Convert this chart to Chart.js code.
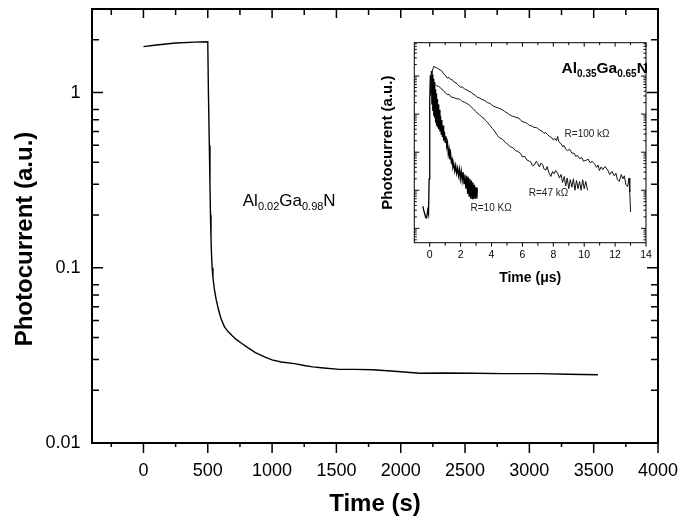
<!DOCTYPE html>
<html>
<head>
<meta charset="utf-8">
<script src="https://cdn.jsdelivr.net/npm/chart.js@4.4.1/dist/chart.umd.min.js"></script>
<style>
  html, body { margin: 0; padding: 0; background: #fff; }
  #wrap { position: relative; width: 681px; height: 524px; }
  #main { position: absolute; left: 0; top: 0; }
  #inset { position: absolute; left: 360px; top: 30px; }
</style>
</head>
<body>
<div id="wrap">
  <canvas id="main" width="681" height="524" style="width:681px;height:524px"></canvas>
  <canvas id="inset" width="300" height="265" style="width:300px;height:265px"></canvas>
</div>
<script>
const FONT = '"Liberation Sans", Arial, Helvetica, sans-serif';

// ---- main panel: photocurrent decay, time in s ----
const timeS = [0, 100, 250, 400, 500, 505, 512, 517, 521, 525, 529, 534, 540, 552, 565, 585, 604, 630, 656, 690,
  721, 765, 811, 870, 941, 1000, 1071, 1174, 1250, 1317, 1400, 1524, 1650, 1783, 1950, 2149, 2350, 2560, 2800, 3079,
  3300, 3533];
const photocurrent = [1.83, 1.87, 1.92, 1.94, 1.95, 1.0, 0.5, 0.3, 0.2, 0.15, 0.12, 0.1, 0.088, 0.075, 0.066, 0.057, 0.051, 0.046, 0.0434, 0.041,
  0.039, 0.037, 0.035, 0.0328, 0.031, 0.0298, 0.029, 0.0284, 0.0277, 0.0272, 0.0268, 0.0263, 0.0263, 0.0262, 0.0257, 0.025, 0.0251, 0.025, 0.0249, 0.0249,
  0.0247, 0.0245];
const mainXTicks = [0, 500, 1000, 1500, 2000, 2500, 3000, 3500, 4000];
const mainXMinor = [-250, 250, 750, 1250, 1750, 2250, 2750, 3250, 3750];
const mainYTicks = [0.01, 0.1, 1];

// ---- inset: transient photocurrent, time in µs ----
const r100Time = [0.05, 0.15, 0.26, 0.35, 0.48, 0.6, 0.7, 0.8, 0.9, 1.0,
  1.13, 1.25, 1.35, 1.45, 1.55, 1.7, 1.85, 1.99, 2.1, 2.25,
  2.4, 2.53, 2.65, 2.8, 2.95, 3.07, 3.2, 3.35, 3.5, 3.61,
  3.75, 3.9, 4.05, 4.15, 4.3, 4.45, 4.6, 4.7, 4.85, 5.0,
  5.1, 5.23, 5.35, 5.5, 5.65, 5.77, 5.9, 6.05, 6.2, 6.33,
  6.45, 6.6, 6.75, 6.9, 6.98, 7.1, 7.25, 7.4, 7.5, 7.63,
  7.75, 7.9, 8.0, 8.1, 8.2, 8.28, 8.35, 8.49, 8.6, 8.7,
  8.8, 8.92, 9.05, 9.2, 9.35, 9.45, 9.57, 9.7, 9.85, 9.95,
  10.11, 10.25, 10.4, 10.5, 10.65, 10.8, 10.9, 10.98, 11.1, 11.2,
  11.35, 11.52, 11.65, 11.8, 11.95, 12.05, 12.15, 12.27, 12.4, 12.5,
  12.6, 12.7, 12.81, 12.9, 12.95, 13.0];
const r100Current = [0.5, 1.3, 1.80, 1.70, 1.62, 1.50, 1.42, 1.33, 1.15, 1.05,
  0.89, 0.92, 0.82, 0.80, 0.71, 0.66, 0.58, 0.505, 0.52, 0.46,
  0.43, 0.397, 0.38, 0.34, 0.31, 0.276, 0.27, 0.245, 0.235, 0.217,
  0.20, 0.19, 0.17, 0.160, 0.15, 0.145, 0.135, 0.130, 0.118, 0.108,
  0.100, 0.093, 0.088, 0.085, 0.080, 0.079, 0.068, 0.062, 0.060, 0.056,
  0.050, 0.049, 0.045, 0.044, 0.043, 0.038, 0.036, 0.031, 0.033, 0.029,
  0.026, 0.024, 0.021, 0.023, 0.020, 0.026, 0.019, 0.017, 0.014, 0.015,
  0.012, 0.011, 0.012, 0.0095, 0.0093, 0.0078, 0.0082, 0.0068, 0.0072, 0.0058,
  0.0061, 0.0066, 0.0052, 0.0058, 0.0050, 0.0040, 0.0046, 0.0033, 0.0041, 0.0035,
  0.0042, 0.0034, 0.0026, 0.0031, 0.0024, 0.0028, 0.0019, 0.0017, 0.0026, 0.0020,
  0.0024, 0.0014, 0.00125, 0.0021, 0.0009, 0.00027];

const r47Time = [0.05, 0.15, 0.25, 0.35, 0.45, 0.58, 0.69, 0.8, 0.91, 1.0,
  1.13, 1.25, 1.35, 1.45, 1.6, 1.75, 1.85, 1.99, 2.1, 2.25,
  2.4, 2.53, 2.65, 2.8, 2.95, 3.07, 3.2, 3.35, 3.5, 3.61,
  3.75, 3.9, 4.05, 4.15, 4.37, 4.5, 4.7, 4.9, 5.05, 5.23,
  5.4, 5.55, 5.7, 5.88, 6.0, 6.15, 6.3, 6.45, 6.53, 6.65,
  6.77, 6.9, 7.0, 7.1, 7.19, 7.3, 7.4, 7.52, 7.6, 7.7,
  7.84, 7.95, 8.05, 8.15, 8.28, 8.4, 8.5, 8.6, 8.71, 8.8,
  8.9, 9.0, 9.1, 9.2, 9.3, 9.4, 9.5, 9.6, 9.7, 9.8,
  9.9, 10.0, 10.1, 10.22];
const r47Current = [0.3, 0.75, 0.62, 0.6, 0.55, 0.537, 0.484, 0.45, 0.396, 0.37,
  0.323, 0.33, 0.29, 0.276, 0.27, 0.25, 0.255, 0.239, 0.215, 0.205,
  0.19, 0.177, 0.16, 0.14, 0.12, 0.107, 0.098, 0.085, 0.078, 0.068,
  0.060, 0.050, 0.042, 0.038, 0.028, 0.024, 0.022, 0.018, 0.016, 0.0139,
  0.013, 0.011, 0.0105, 0.0093, 0.0075, 0.0078, 0.0062, 0.0058, 0.0056, 0.0044,
  0.0046, 0.0058, 0.0050, 0.0041, 0.0051, 0.0048, 0.0036, 0.0034, 0.0042, 0.0030,
  0.0023, 0.0031, 0.0027, 0.0033, 0.0028, 0.0021, 0.0026, 0.0016, 0.0023, 0.0013,
  0.0021, 0.0011, 0.0019, 0.0012, 0.0020, 0.0010, 0.0018, 0.0011, 0.0017, 0.0010,
  0.0019, 0.0011, 0.0017, 0.0010];

const r10Time = [-0.45, -0.35, -0.25, -0.2, -0.13, -0.08, -0.04, 0.0, 0.04, 0.08,
  0.11, 0.14, 0.17, 0.20, 0.23, 0.26, 0.29, 0.32, 0.35, 0.38,
  0.41, 0.44, 0.47, 0.50, 0.54, 0.58, 0.62, 0.66, 0.70, 0.74,
  0.78, 0.82, 0.86, 0.90, 0.95, 1.00, 1.05, 1.10, 1.15, 1.20,
  1.25, 1.30, 1.35, 1.40, 1.45, 1.50, 1.56, 1.62, 1.68, 1.74,
  1.80, 1.86, 1.92, 1.98, 2.04, 2.10, 2.16, 2.22, 2.28, 2.34,
  2.40, 2.45, 2.50, 2.55, 2.60, 2.65, 2.70, 2.75, 2.80, 2.85,
  2.90, 2.95, 3.00, 3.05, 3.08];
const r10Current = [3.8e-4, 2.6e-4, 1.9e-4, 1.9e-4, 3.0e-4, 2.4e-4, 0.002, 0.25, 1.05, 0.35,
  1.35, 0.18, 1.1, 0.12, 0.85, 0.09, 0.7, 0.08, 0.45, 0.06,
  0.35, 0.05, 0.25, 0.045, 0.18, 0.04, 0.13, 0.035, 0.09, 0.03,
  0.07, 0.025, 0.05, 0.02, 0.035, 0.018, 0.026, 0.014, 0.018, 0.009,
  0.012, 0.0065, 0.009, 0.0055, 0.0065, 0.004, 0.0048, 0.0032, 0.0045, 0.0028,
  0.0038, 0.0024, 0.0036, 0.0020, 0.0032, 0.0018, 0.0030, 0.0015, 0.0026, 0.0011,
  0.0024, 0.0008, 0.0022, 0.0007, 0.0020, 0.0006, 0.0018, 0.0006, 0.0016, 0.0006,
  0.0014, 0.0006, 0.0012, 0.0006, 0.0011];
const insetXTicks = [0, 2, 4, 6, 8, 10, 12, 14];
const insetXMinor = [1, 3, 5, 7, 9, 11, 13];
const insetYTicks = [1e-4, 1e-3, 1e-2, 0.1, 1];

const pts = (xs, ys) => xs.map((x, i) => ({ x: x, y: ys[i] }));

// minor ticks of a log axis, mults inside each decade
const logMinors = (decades, mults, min, max) => {
  const out = [];
  decades.forEach(d => mults.forEach(m => {
    const v = d * m;
    if (v > min && v < max) out.push(v);
  }));
  return out;
};

// frame + tick marks drawn through the chart scales
const frameTicks = {
  id: 'frameTicks',
  afterDatasetsDraw(chart, args, o) {
    const { ctx, chartArea: a } = chart;
    const sx = chart.scales.x, sy = chart.scales.y;
    ctx.save();
    ctx.strokeStyle = '#000';
    ctx.lineWidth = o.tickWidth;
    ctx.beginPath();
    const seg = (x1, y1, x2, y2) => { ctx.moveTo(x1, y1); ctx.lineTo(x2, y2); };
    [[o.xMajor, 0], [o.xMinor, 1]].forEach(([vals, k]) => vals.forEach(v => {
      const px = sx.getPixelForValue(v);
      seg(px, a.bottom, px, a.bottom + o.bottom[k]);
      seg(px, a.top, px, a.top + o.top[k]);
    }));
    [[o.yMajor, 0], [o.yMinor, 1]].forEach(([vals, k]) => vals.forEach(v => {
      const py = sy.getPixelForValue(v);
      seg(a.left, py, a.left + o.left[k], py);
      seg(a.right, py, a.right - o.right[k], py);
    }));
    ctx.stroke();
    ctx.lineWidth = o.frameWidth;
    ctx.strokeRect(a.left, a.top, a.right - a.left, a.bottom - a.top);
    ctx.restore();
  }
};

// formula with subscripts, parts = [text, isSub]
function drawFormula(ctx, x, y, parts, font, subFont, subDy, align) {
  ctx.save();
  ctx.fillStyle = '#000';
  ctx.textBaseline = 'alphabetic';
  ctx.textAlign = 'left';
  let w = 0;
  parts.forEach(([t, sub]) => { ctx.font = sub ? subFont : font; w += ctx.measureText(t).width; });
  let cx = align === 'right' ? x - w : x;
  parts.forEach(([t, sub]) => {
    ctx.font = sub ? subFont : font;
    ctx.fillText(t, cx, sub ? y + subDy : y);
    cx += ctx.measureText(t).width;
  });
  ctx.restore();
}

const mainText = {
  id: 'mainText',
  afterDraw(chart) {
    const { ctx } = chart;
    const sx = chart.scales.x, sy = chart.scales.y;
    ctx.save();
    ctx.fillStyle = '#000';
    ctx.font = 'bold 24px ' + FONT;
    ctx.textAlign = 'center';
    ctx.textBaseline = 'middle';
    ctx.translate(25, 239);
    ctx.rotate(-Math.PI / 2);
    ctx.fillText('Photocurrent (a.u.)', 0, 0);
    ctx.restore();
    drawFormula(ctx, sx.getPixelForValue(772), sy.getPixelForValue(0.226),
      [['Al', 0], ['0.02', 1], ['Ga', 0], ['0.98', 1], ['N', 0]],
      '17px ' + FONT, '11px ' + FONT, 4, 'left');
  }
};

const insetText = {
  id: 'insetText',
  afterDraw(chart) {
    const { ctx } = chart;
    const sx = chart.scales.x, sy = chart.scales.y;
    drawFormula(ctx, sx.getPixelForValue(14.12), sy.getPixelForValue(1.2),
      [['Al', 0], ['0.35', 1], ['Ga', 0], ['0.65', 1], ['N', 0]],
      'bold 15.5px ' + FONT, 'bold 10px ' + FONT, 3.5, 'right');
    ctx.save();
    ctx.fillStyle = '#222';
    ctx.font = '10px ' + FONT;
    ctx.textBaseline = 'middle';
    ctx.fillText('R=100 k\u03A9', sx.getPixelForValue(8.73), sy.getPixelForValue(0.029));
    ctx.fillText('R=47 k\u03A9', sx.getPixelForValue(6.41), sy.getPixelForValue(8.3e-4));
    ctx.fillText('R=10 K\u03A9', sx.getPixelForValue(2.64), sy.getPixelForValue(3.4e-4));
    ctx.restore();
  }
};

const noPad = s => { s.paddingLeft = 0; s.paddingRight = 0; s.paddingTop = 0; s.paddingBottom = 0; };

new Chart(document.getElementById('main'), {
  type: 'line',
  data: {
    datasets: [{
      data: pts(timeS, photocurrent),
      borderColor: '#000',
      borderWidth: 1.4,
      pointRadius: 0,
      tension: 0
    }]
  },
  options: {
    responsive: false,
    animation: false,
    devicePixelRatio: 1,
    layout: { padding: { top: 9, right: 23, left: 0, bottom: 0 } },
    plugins: {
      legend: { display: false },
      tooltip: { enabled: false },
      frameTicks: {
        xMajor: mainXTicks, xMinor: mainXMinor,
        yMajor: mainYTicks,
        yMinor: logMinors([0.01, 0.1, 1], [2, 3, 4, 5, 6, 7, 8], 0.01, 3),
        bottom: [10, 4], top: [9, 6], left: [11, 7], right: [11, 7],
        tickWidth: 1.5, frameWidth: 2
      }
    },
    scales: {
      x: {
        type: 'linear', min: -400, max: 4000,
        grid: { display: false, drawTicks: false },
        border: { display: false },
        afterBuildTicks: s => { s.ticks = mainXTicks.map(v => ({ value: v })); },
        afterFit: s => { s.height = 81; noPad(s); },
        ticks: { autoSkip: false, maxRotation: 0, padding: 17, color: '#000', font: { family: FONT, size: 18 },
          callback: v => String(v) },
        title: { display: true, text: 'Time (s)', color: '#000', padding: { top: 0, bottom: 5.6 },
          font: { family: FONT, size: 24, weight: 'bold' } }
      },
      y: {
        type: 'logarithmic', min: 0.01, max: 3,
        grid: { display: false, drawTicks: false },
        border: { display: false },
        afterBuildTicks: s => { s.ticks = mainYTicks.map(v => ({ value: v })); },
        afterFit: s => { s.width = 92; noPad(s); },
        ticks: { autoSkip: false, padding: 11.5, color: '#000', font: { family: FONT, size: 18 },
          callback: v => String(v) }
      }
    }
  },
  plugins: [frameTicks, mainText]
});

new Chart(document.getElementById('inset'), {
  type: 'line',
  data: {
    datasets: [
      { data: pts(r100Time, r100Current), borderColor: '#111', borderWidth: 1, pointRadius: 0, tension: 0 },
      { data: pts(r47Time, r47Current), borderColor: '#111', borderWidth: 1, pointRadius: 0, tension: 0 },
      { data: pts(r10Time, r10Current), borderColor: '#000', borderWidth: 1.3, pointRadius: 0, tension: 0 }
    ]
  },
  options: {
    responsive: false,
    animation: false,
    devicePixelRatio: 1,
    layout: { padding: { top: 12.7, right: 14, left: 0, bottom: 0 } },
    plugins: {
      legend: { display: false },
      tooltip: { enabled: false },
      frameTicks: {
        xMajor: insetXTicks, xMinor: insetXMinor,
        yMajor: insetYTicks,
        yMinor: logMinors([1e-5, 1e-4, 1e-3, 1e-2, 0.1, 1], [2, 3, 4, 5, 6, 7, 8, 9], 4.2e-5, 7.5),
        bottom: [4, 3], top: [4, 2.5], left: [5, 2.5], right: [5, 2.5],
        tickWidth: 1, frameWidth: 1
      }
    },
    scales: {
      x: {
        type: 'linear', min: -1, max: 14,
        grid: { display: false, drawTicks: false },
        border: { display: false },
        afterBuildTicks: s => { s.ticks = insetXTicks.map(v => ({ value: v })); },
        afterFit: s => { s.height = 52.3; noPad(s); },
        ticks: { autoSkip: false, maxRotation: 0, padding: 6, color: '#000', font: { family: FONT, size: 10.5 } },
        title: { display: true, text: 'Time (\u03BCs)', color: '#000', padding: { top: 0, bottom: 8.6 },
          font: { family: FONT, size: 14, weight: 'bold' } }
      },
      y: {
        type: 'logarithmic', min: 4.2e-5, max: 7.5,
        grid: { display: false, drawTicks: false },
        border: { display: false },
        afterFit: s => { s.width = 54.3; noPad(s); },
        ticks: { display: false },
        title: { display: true, text: 'Photocurrent (a.u.)', color: '#000', padding: { top: 18.5, bottom: 0 },
          font: { family: FONT, size: 15, weight: 'bold' } }
      }
    }
  },
  plugins: [frameTicks, insetText]
});
</script>
</body>
</html>
